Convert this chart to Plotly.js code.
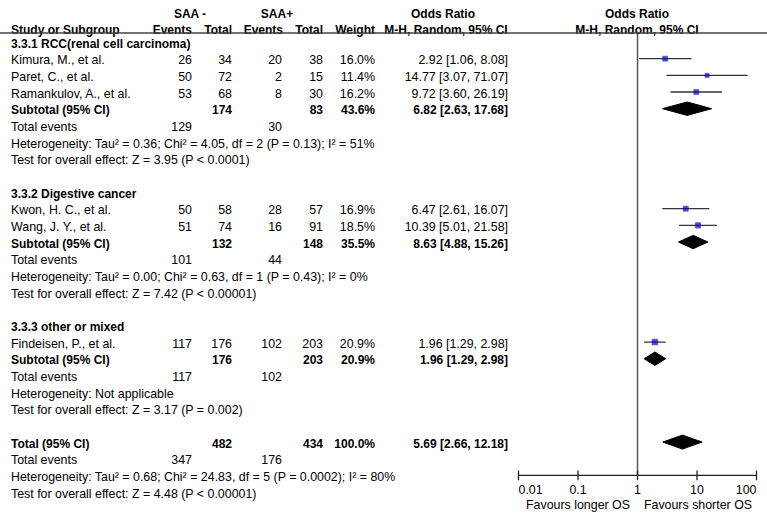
<!DOCTYPE html>
<html><head><meta charset="utf-8">
<script src="https://cdn.plot.ly/plotly-3.0.1.min.js"></script>
<style>html,body{margin:0;padding:0;background:#fff}#chart{width:767px;height:518px}</style>
</head><body><div id="chart"></div>
<script>
// ---------------- data ----------------
const groupTitles = ["3.3.1 RCC(renal cell carcinoma)", "3.3.2 Digestive cancer", "3.3.3 other or mixed"];
const studyNames = ["Kimura, M., et al.", "Paret, C., et al.", "Ramankulov, A., et al.", "Kwon, H. C., et al.", "Wang, J. Y., et al.", "Findeisen, P., et al."];
const studyGroup = [0, 0, 0, 1, 1, 2];
const eventsNeg = [26, 50, 53, 50, 51, 117];
const totalNeg = [34, 72, 68, 58, 74, 176];
const eventsPos = [20, 2, 8, 28, 16, 102];
const totalPos = [38, 15, 30, 57, 91, 203];
const weights = [16.0, 11.4, 16.2, 16.9, 18.5, 20.9];
const orEst = [2.92, 14.77, 9.72, 6.47, 10.39, 1.96];
const orLow = [1.06, 3.07, 3.60, 2.61, 5.01, 1.29];
const orHigh = [8.08, 71.07, 26.19, 16.07, 21.58, 2.98];
const subTotalNeg = [174, 132, 176];
const subTotalPos = [83, 148, 203];
const subWeight = [43.6, 35.5, 20.9];
const subEst = [6.82, 8.63, 1.96];
const subLow = [2.63, 4.88, 1.29];
const subHigh = [17.68, 15.26, 2.98];
const subEventsNeg = [129, 101, 117];
const subEventsPos = [30, 44, 102];
const subHeterogeneity = [
  "Heterogeneity: Tau² = 0.36; Chi² = 4.05, df = 2 (P = 0.13); I² = 51%",
  "Heterogeneity: Tau² = 0.00; Chi² = 0.63, df = 1 (P = 0.43); I² = 0%",
  "Heterogeneity: Not applicable"];
const subEffect = [
  "Test for overall effect: Z = 3.95 (P < 0.0001)",
  "Test for overall effect: Z = 7.42 (P < 0.00001)",
  "Test for overall effect: Z = 3.17 (P = 0.002)"];
const overallTotalNeg = 482, overallTotalPos = 434, overallWeight = 100.0;
const overallEst = 5.69, overallLow = 2.66, overallHigh = 12.18;
const overallEventsNeg = 347, overallEventsPos = 176;
const overallHeterogeneity = "Heterogeneity: Tau² = 0.68; Chi² = 24.83, df = 5 (P = 0.0002); I² = 80%";
const overallEffect = "Test for overall effect: Z = 4.48 (P < 0.00001)";
const headerTop = ["SAA -", "SAA+", "Odds Ratio", "Odds Ratio"];
const headerBottom = ["Study or Subgroup", "Events", "Total", "Events", "Total", "Weight", "M-H, Random, 95% CI", "M-H, Random, 95% CI"];
const tickValues = [0.01, 0.1, 1, 10, 100];
const tickLabels = ["0.01", "0.1", "1", "10", "100"];
const favourLabels = ["Favours longer OS", "Favours shorter OS"];

// ---------------- layout geometry ----------------
const W = 767, H = 518;
const Y0 = 42, STEP = 16.67;            // pixel of row 0 and row pitch
const TXT_SHIFT = 2.5 / STEP;           // text baseline tweak
const rowK = p => (p - Y0) / STEP;      // pixel -> row units
const kTop = rowK(33), kAxis = 26, kBottom = rowK(H);
const COL = {name: 11, evN: 192, totN: 232, evP: 282, totP: 323, w: 375, or: 508};
const FONT = "Liberation Sans, Arial, sans-serif";
const DEC = 59.5, XPAD = 0.05;          // px per decade, range padding (decades)

const fmtOR = (e, l, h) => e.toFixed(2) + " [" + l.toFixed(2) + ", " + h.toFixed(2) + "]";

const buckets = {};
function put(x, k, t, align, bold) {
  const key = align + "|" + (bold ? "b" : "n");
  if (!buckets[key]) buckets[key] = {x: [], y: [], t: [], align, bold};
  buckets[key].x.push(x); buckets[key].y.push(k + TXT_SHIFT); buckets[key].t.push(String(t));
}

// header
const kH1 = rowK(12), kH2 = rowK(28);
put(190, kH1, headerTop[0], "c", true);
put(277, kH1, headerTop[1], "c", true);
put(443, kH1, headerTop[2], "c", true);
put(637, kH1, headerTop[3], "c", true);
put(COL.name, kH2, headerBottom[0], "l", true);
put(COL.evN, kH2, headerBottom[1], "r", true);
put(COL.totN, kH2, headerBottom[2], "r", true);
put(COL.evP + 1, kH2, headerBottom[3], "r", true);
put(COL.totP, kH2, headerBottom[4], "r", true);
put(COL.w, kH2, headerBottom[5], "r", true);
put(446, kH2, headerBottom[6], "c", true);
put(637, kH2, headerBottom[7], "c", true);

// body rows
const studyRows = [], studyIdx = [], diamonds = [];
let k = 0;
for (let g = 0; g < groupTitles.length; g++) {
  put(COL.name, k, groupTitles[g], "l", true); k++;
  for (let i = 0; i < studyNames.length; i++) {
    if (studyGroup[i] !== g) continue;
    put(COL.name, k, studyNames[i], "l", false);
    put(COL.evN, k, eventsNeg[i], "r", false);
    put(COL.totN, k, totalNeg[i], "r", false);
    put(COL.evP, k, eventsPos[i], "r", false);
    put(COL.totP, k, totalPos[i], "r", false);
    put(COL.w, k, weights[i].toFixed(1) + "%", "r", false);
    put(COL.or, k, fmtOR(orEst[i], orLow[i], orHigh[i]), "r", false);
    studyRows.push(k); studyIdx.push(i); k++;
  }
  put(COL.name, k, "Subtotal (95% CI)", "l", true);
  put(COL.totN, k, subTotalNeg[g], "r", true);
  put(COL.totP, k, subTotalPos[g], "r", true);
  put(COL.w, k, subWeight[g].toFixed(1) + "%", "r", true);
  put(COL.or, k, fmtOR(subEst[g], subLow[g], subHigh[g]), "r", true);
  diamonds.push({k, e: subEst[g], l: subLow[g], h: subHigh[g]}); k++;
  put(COL.name, k, "Total events", "l", false);
  put(COL.evN, k, subEventsNeg[g], "r", false);
  put(COL.evP, k, subEventsPos[g], "r", false); k++;
  put(COL.name, k, subHeterogeneity[g], "l", false); k++;
  put(COL.name, k, subEffect[g], "l", false); k++;
  k++; // blank row
}
put(COL.name, k, "Total (95% CI)", "l", true);
put(COL.totN, k, overallTotalNeg, "r", true);
put(COL.totP, k, overallTotalPos, "r", true);
put(COL.w, k, overallWeight.toFixed(1) + "%", "r", true);
put(COL.or, k, fmtOR(overallEst, overallLow, overallHigh), "r", true);
diamonds.push({k, e: overallEst, l: overallLow, h: overallHigh, big: true}); k++;
put(COL.name, k, "Total events", "l", false);
put(COL.evN, k, overallEventsNeg, "r", false);
put(COL.evP, k, overallEventsPos, "r", false); k++;
put(COL.name, k, overallHeterogeneity, "l", false); k++;
put(COL.name, k, overallEffect, "l", false); k++;

// favours labels
put(578, rowK(503.5), favourLabels[0], "c", false);
put(698, rowK(503.5), favourLabels[1], "c", false);

// ---------------- traces ----------------
const traces = [];
const posMap = {l: "middle right", r: "middle left", c: "middle center"};
Object.values(buckets).forEach(b => {
  traces.push({
    type: "scatter", mode: "text", xaxis: "x2", yaxis: "y2",
    x: b.x, y: b.y, text: b.t, textposition: posMap[b.align],
    textfont: {family: FONT, size: b.bold ? 12 : 12.4, color: "#000", weight: b.bold ? "bold" : "normal"},
    hoverinfo: "skip", showlegend: false
  });
});

// line of no effect
traces.push({type: "scatter", mode: "lines", x: [1, 1], y: [kTop, kAxis],
  line: {color: "#555", width: 1.5}, hoverinfo: "skip", showlegend: false});

// forest axis line
traces.push({type: "scatter", mode: "lines",
  x: [tickValues[0], tickValues[tickValues.length - 1]], y: [kAxis, kAxis],
  line: {color: "#222", width: 1.3}, hoverinfo: "skip", showlegend: false});

// CI lines
const cx = [], cy = [];
studyIdx.forEach((i, j) => { cx.push(orLow[i], orHigh[i], null); cy.push(studyRows[j], studyRows[j], null); });
traces.push({type: "scatter", mode: "lines", x: cx, y: cy,
  line: {color: "#333", width: 1.3}, hoverinfo: "skip", showlegend: false});

// squares
traces.push({type: "scatter", mode: "markers",
  x: studyIdx.map(i => orEst[i]), y: studyRows,
  marker: {symbol: "square", size: studyIdx.map(i => 1.25 * Math.sqrt(weights[i])),
    color: "#0000d8", line: {color: "#00008a", width: 0.6}},
  hoverinfo: "skip", showlegend: false});

// diamonds
const dx = [], dy = [];
diamonds.forEach(d => {
  const hh = (d.big ? 7 : 6.7) / STEP;
  dx.push(d.l, d.e, d.h, d.e, d.l, null);
  dy.push(d.k, d.k - hh, d.k, d.k + hh, d.k, null);
});
traces.push({type: "scatter", mode: "lines", x: dx, y: dy, fill: "toself",
  fillcolor: "#000", line: {color: "#000", width: 1}, hoverinfo: "skip", showlegend: false});

// axis tick marks crossing the axis line
traces.push({type: "scatter", mode: "markers", x: tickValues, y: tickValues.map(() => kAxis),
  marker: {symbol: "line-ns", size: 7, line: {color: "#222", width: 1.3}},
  hoverinfo: "skip", showlegend: false});

// tick labels (end labels kept inside the axis span, as in the reference)
traces.push({type: "scatter", mode: "text", x: tickValues, y: tickValues.map(() => rowK(488) + TXT_SHIFT),
  text: tickLabels,
  textposition: tickValues.map((v, i) => i === 0 ? "middle right" : (i === tickValues.length - 1 ? "middle left" : "middle center")),
  textfont: {family: FONT, size: 12.4, color: "#000"},
  hoverinfo: "skip", showlegend: false});

const x0px = 518.5 - XPAD * DEC, x1px = 756.5 + XPAD * DEC;
const layout = {
  width: W, height: H,
  margin: {l: 0, r: 0, t: 0, b: 0, pad: 0},
  paper_bgcolor: "#fff", plot_bgcolor: "rgba(0,0,0,0)",
  font: {family: FONT, size: 12, color: "#000"},
  showlegend: false,
  xaxis: {type: "log", range: [-2 - XPAD, 2 + XPAD], domain: [x0px / W, x1px / W], anchor: "y",
    visible: false, automargin: false},
  yaxis: {range: [kBottom, kTop], domain: [0, (H - 33) / H], anchor: "x",
    visible: false, fixedrange: true},
  xaxis2: {range: [0, W], domain: [0, 1], anchor: "y2", visible: false},
  yaxis2: {range: [kBottom, -Y0 / STEP], domain: [0, 1], anchor: "x2", visible: false},
  shapes: [{type: "line", xref: "paper", yref: "y2", x0: 0, x1: 1, y0: kTop, y1: kTop,
    line: {color: "#444", width: 1.5}}]
};

Plotly.newPlot("chart", traces, layout, {staticPlot: true, displayModeBar: false});
</script>
</body></html>
